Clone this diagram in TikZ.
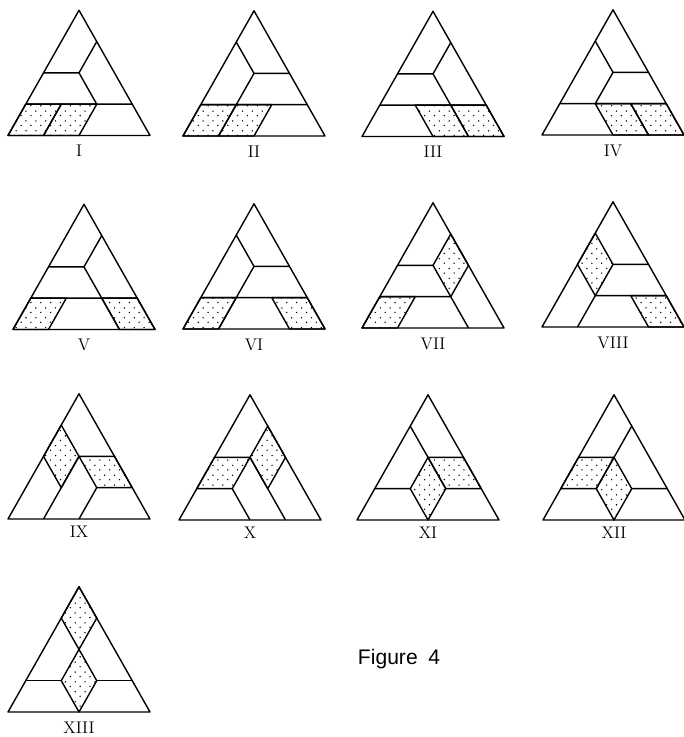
\documentclass[tikz,border=0pt]{standalone}
\usepackage{fontspec}
\newfontfamily\captionfont{Liberation Sans}
\usetikzlibrary{patterns}

\pgfdeclarepatternformonly{sparsedots}{\pgfqpoint{-1pt}{-1pt}}{\pgfqpoint{8pt}{8pt}}{\pgfqpoint{7pt}{7pt}}{%
  \pgfpathcircle{\pgfqpoint{1pt}{1pt}}{0.55pt}
  \pgfpathcircle{\pgfqpoint{4.5pt}{4.2pt}}{0.55pt}
  \pgfusepath{fill}}

\tikzset{
  edge/.style={line width=1pt, line join=round},
  shaded/.style={edge, pattern=sparsedots},
  numeral/.style={font=\large},
  fig/.style={x=8.875mm, y=7.825mm}
}

\begin{document}
\begin{tikzpicture}[x=0.25mm, y=0.25mm]
  \useasboundingbox (0,0) rectangle (684,737);
  % Figure I
  \begin{scope}[shift={(8,601.5)}, fig]
    \draw[shaded] (0,0) -- (1,0) -- (1.5,1) -- (0.5,1) -- cycle;
    \draw[shaded] (1,0) -- (2,0) -- (2.5,1) -- (1.5,1) -- cycle;
    \draw[edge] (1,2) -- (2,2) -- (2.5,3) (2,2) -- (2.5,1) (0.5,1) -- (3.5,1);
    \draw[edge] (0,0) -- (4,0) -- (2,4) -- cycle;
    \node[numeral] (lI) at (2,-0.5) {I};
  \end{scope}
  % Figure II
  \begin{scope}[shift={(183,601)}, fig]
    \draw[shaded] (0,0) -- (1,0) -- (1.5,1) -- (0.5,1) -- cycle;
    \draw[shaded] (1,0) -- (2,0) -- (2.5,1) -- (1.5,1) -- cycle;
    \draw[edge] (1.5,3) -- (2,2) -- (3,2) (2,2) -- (1.5,1) (0.5,1) -- (3.5,1);
    \draw[edge] (0,0) -- (4,0) -- (2,4) -- cycle;
    \node[numeral] (lII) at (2,-0.5) {II};
  \end{scope}
  % Figure III
  \begin{scope}[shift={(362,600.5)}, fig]
    \draw[shaded] (2,0) -- (3,0) -- (2.5,1) -- (1.5,1) -- cycle;
    \draw[shaded] (3,0) -- (4,0) -- (3.5,1) -- (2.5,1) -- cycle;
    \draw[edge] (1,2) -- (2,2) -- (2.5,3) (2,2) -- (2.5,1) (0.5,1) -- (3.5,1);
    \draw[edge] (0,0) -- (4,0) -- (2,4) -- cycle;
    \node[numeral] (lIII) at (2,-0.5) {III};
  \end{scope}
  % Figure IV
  \begin{scope}[shift={(542,602)}, fig]
    \draw[shaded] (2,0) -- (3,0) -- (2.5,1) -- (1.5,1) -- cycle;
    \draw[shaded] (3,0) -- (4,0) -- (3.5,1) -- (2.5,1) -- cycle;
    \draw[edge] (1.5,3) -- (2,2) -- (3,2) (2,2) -- (1.5,1) (0.5,1) -- (3.5,1);
    \draw[edge] (0,0) -- (4,0) -- (2,4) -- cycle;
    \node[numeral] (lIV) at (2,-0.5) {IV};
  \end{scope}
  % Figure V
  \begin{scope}[shift={(13,407.5)}, fig]
    \draw[shaded] (0,0) -- (1,0) -- (1.5,1) -- (0.5,1) -- cycle;
    \draw[shaded] (3,0) -- (4,0) -- (3.5,1) -- (2.5,1) -- cycle;
    \draw[edge] (1,2) -- (2,2) -- (2.5,3) (2,2) -- (3,0) (0.5,1) -- (3.5,1);
    \draw[edge] (0,0) -- (4,0) -- (2,4) -- cycle;
    \node[numeral] (lV) at (2,-0.5) {V};
  \end{scope}
  % Figure VI
  \begin{scope}[shift={(183,408)}, fig]
    \draw[shaded] (0,0) -- (1,0) -- (1.5,1) -- (0.5,1) -- cycle;
    \draw[shaded] (3,0) -- (4,0) -- (3.5,1) -- (2.5,1) -- cycle;
    \draw[edge] (1.5,3) -- (2,2) -- (3,2) (2,2) -- (1,0) (0.5,1) -- (3.5,1);
    \draw[edge] (0,0) -- (4,0) -- (2,4) -- cycle;
    \node[numeral] (lVI) at (2,-0.5) {VI};
  \end{scope}
  % Figure VII
  \begin{scope}[shift={(362,409)}, fig]
    \draw[shaded] (0,0) -- (1,0) -- (1.5,1) -- (0.5,1) -- cycle;
    \draw[shaded] (2,2) -- (2.5,1) -- (3,2) -- (2.5,3) -- cycle;
    \draw[edge] (1,2) -- (2,2) (0.5,1) -- (2.5,1) -- (3,0);
    \draw[edge] (0,0) -- (4,0) -- (2,4) -- cycle;
    \node[numeral] (lVII) at (2,-0.5) {VII};
  \end{scope}
  % Figure VIII
  \begin{scope}[shift={(542,410)}, fig]
    \draw[shaded] (3,0) -- (4,0) -- (3.5,1) -- (2.5,1) -- cycle;
    \draw[shaded] (1,2) -- (1.5,1) -- (2,2) -- (1.5,3) -- cycle;
    \draw[edge] (2,2) -- (3,2) (3.5,1) -- (1.5,1) -- (1,0);
    \draw[edge] (0,0) -- (4,0) -- (2,4) -- cycle;
    \node[numeral] (lVIII) at (2,-0.5) {VIII};
  \end{scope}
  % Figure IX
  \begin{scope}[shift={(8,218)}, fig]
    \draw[shaded] (1,2) -- (1.5,1) -- (2,2) -- (1.5,3) -- cycle;
    \draw[shaded] (2,2) -- (3,2) -- (3.5,1) -- (2.5,1) -- cycle;
    \draw[edge] (2,2) -- (1,0) (2.5,1) -- (2,0);
    \draw[edge] (0,0) -- (4,0) -- (2,4) -- cycle;
    \node[numeral] (lIX) at (2,-0.4) {IX};
  \end{scope}
  % Figure X
  \begin{scope}[shift={(179,217)}, fig]
    \draw[shaded] (1,2) -- (2,2) -- (1.5,1) -- (0.5,1) -- cycle;
    \draw[shaded] (2,2) -- (2.5,1) -- (3,2) -- (2.5,3) -- cycle;
    \draw[edge] (2,2) -- (3,0) (1.5,1) -- (2,0);
    \draw[edge] (0,0) -- (4,0) -- (2,4) -- cycle;
    \node[numeral] (lX) at (2,-0.4) {X};
  \end{scope}
  % Figure XI
  \begin{scope}[shift={(357,217)}, fig]
    \draw[shaded] (2,0) -- (2.5,1) -- (2,2) -- (1.5,1) -- cycle;
    \draw[shaded] (2,2) -- (3,2) -- (3.5,1) -- (2.5,1) -- cycle;
    \draw[edge] (1.5,3) -- (2,2) (0.5,1) -- (1.5,1);
    \draw[edge] (0,0) -- (4,0) -- (2,4) -- cycle;
    \node[numeral] (lXI) at (2,-0.4) {XI};
  \end{scope}
  % Figure XII
  \begin{scope}[shift={(543,217)}, fig]
    \draw[shaded] (2,0) -- (2.5,1) -- (2,2) -- (1.5,1) -- cycle;
    \draw[shaded] (1,2) -- (2,2) -- (1.5,1) -- (0.5,1) -- cycle;
    \draw[edge] (2.5,3) -- (2,2) (2.5,1) -- (3.5,1);
    \draw[edge] (0,0) -- (4,0) -- (2,4) -- cycle;
    \node[numeral] (lXII) at (2,-0.4) {XII};
  \end{scope}
  % Figure XIII
  \begin{scope}[shift={(8,25)}, fig]
    \draw[shaded] (2,0) -- (2.5,1) -- (2,2) -- (1.5,1) -- cycle;
    \draw[shaded] (2,2) -- (2.5,3) -- (2,4) -- (1.5,3) -- cycle;
    \draw[edge] (0.5,1) -- (1.5,1) (2.5,1) -- (3.5,1);
    \draw[edge] (0,0) -- (4,0) -- (2,4) -- cycle;
    \node[numeral] (lXIII) at (2,-0.5) {XIII};
  \end{scope}
  % caption
  \node[font=\captionfont\fontsize{15}{18}\selectfont] (caption) at (399,78) {Figure\enspace4};
\end{tikzpicture}
\end{document}
